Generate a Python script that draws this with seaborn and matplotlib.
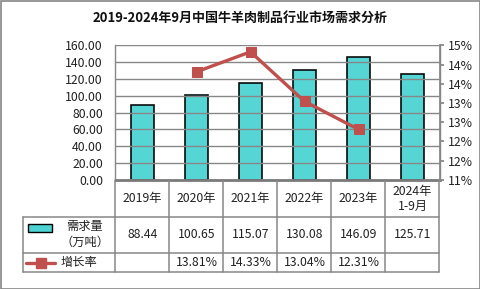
import matplotlib
matplotlib.use("Agg")
import matplotlib.pyplot as plt
import seaborn as sns
import pandas as pd
import numpy as np
from matplotlib.patches import Rectangle
from matplotlib.lines import Line2D

sns.set_theme(style="white")
plt.rcParams['font.family'] = ['Noto Sans CJK SC', 'DejaVu Sans']

# ---- data ----
categories = ["2019年", "2020年", "2021年", "2022年", "2023年", "2024年\n1-9月"]
demand = [88.44, 100.65, 115.07, 130.08, 146.09, 125.71]
growth_years = ["2020年", "2021年", "2022年", "2023年"]
growth = [13.81, 14.33, 13.04, 12.31]
left_ticks = [0, 20, 40, 60, 80, 100, 120, 140, 160]
right_ticks = [11.0, 11.5, 12.0, 12.5, 13.0, 13.5, 14.0, 14.5]
right_labels = ["11%", "12%", "12%", "13%", "13%", "14%", "14%", "15%"]
title = "2019-2024年9月中国牛羊肉制品行业市场需求分析"
row1_label = ["需求量", "（万吨）"]
row2_label = "增长率"

BAR = "#4DD3D3"
LINE = "#C0504D"
GRID = "#878787"
TXT = "#222222"
FS = 8.8

W, H = 481, 289
fig = plt.figure(figsize=(W / 100, H / 100), dpi=100)

def fx(px):
    return px / W

def fy(py):
    return 1 - py / H

L, R, T, B = 115.5, 439.5, 45.3, 179.7
ax = fig.add_axes([fx(L), fy(B), (R - L) / W, (B - T) / H])

df = pd.DataFrame({"cat": categories, "demand": demand})
sns.barplot(data=df, x="cat", y="demand", order=categories, ax=ax,
            color=BAR, width=0.41, edgecolor="black", linewidth=1.2,
            saturation=1, alpha=0.95, zorder=2)
ax.set_xlim(-0.5, len(categories) - 0.5)
ax.set_ylim(0, 160)
ax.set_yticks(left_ticks)
ax.set_yticklabels([f"{v:.2f}" for v in left_ticks], fontsize=FS, color=TXT)
ax.set_xticks([])
ax.set_xlabel("")
ax.set_ylabel("")
ax.grid(axis="y", color=GRID, linewidth=1.0, zorder=3)
ax.set_axisbelow(False)
for s in ["left", "right", "top"]:
    ax.spines[s].set_color(GRID)
    ax.spines[s].set_linewidth(1.0)
ax.spines["top"].set_visible(False)
ax.spines["bottom"].set_color("#7a7a7a")
ax.spines["bottom"].set_linewidth(2.0)
ax.tick_params(axis="y", length=0, pad=9)

ax2 = ax.twinx()
pos = [categories.index(c) for c in growth_years]
dfl = pd.DataFrame({"pos": pos, "growth": growth})
sns.lineplot(data=dfl, x="pos", y="growth", ax=ax2, color=LINE, linewidth=2.4,
             marker="s", markersize=7, markeredgecolor=LINE, zorder=5)
ax2.set_ylim(11.0, 14.5)
ax2.set_yticks(right_ticks)
ax2.set_yticklabels(right_labels, fontsize=FS, color=TXT)
ax2.tick_params(axis="y", length=3, color=GRID, pad=3)
ax2.set_xlim(-0.5, len(categories) - 0.5)
ax2.set_xlabel("")
ax2.set_ylabel("")
ax2.grid(False)
for s in ["left", "top", "bottom"]:
    ax2.spines[s].set_visible(False)
ax2.spines["right"].set_color(GRID)

# ---- title ----
fig.text(fx(240), fy(18), title, ha="center", va="center", fontsize=9.4,
         fontweight="bold", color="#111111")

# ---- data table ----
cw = (R - L) / len(categories)
y0, y1, y2, y3 = B, 216.7, 252.7, 272.0
tl = 23.3
lw = 1.1
def hline(y, xa, xb):
    fig.add_artist(Line2D([fx(xa), fx(xb)], [fy(y), fy(y)], color=GRID, lw=lw))
def vline(x, ya, yb):
    fig.add_artist(Line2D([fx(x), fx(x)], [fy(ya), fy(yb)], color=GRID, lw=lw))

for k in range(len(categories) + 1):
    vline(L + k * cw, y0, y3)
vline(tl, y1, y3)
for y in (y1, y2, y3):
    hline(y, tl, R)

for i, c in enumerate(categories):
    cx = L + (i + 0.5) * cw
    if "\n" in c:
        a, b = c.split("\n")
        fig.text(fx(cx), fy(191.7), a, ha="center", va="center", fontsize=FS, color=TXT)
        fig.text(fx(cx), fy(206.7), b, ha="center", va="center", fontsize=FS, color=TXT)
    else:
        fig.text(fx(cx), fy((y0 + y1) / 2), c, ha="center", va="center", fontsize=FS, color=TXT)
    fig.text(fx(cx), fy((y1 + y2) / 2), f"{demand[i]:.2f}", ha="center", va="center",
             fontsize=FS, color=TXT)

for c, g in zip(growth_years, growth):
    i = categories.index(c)
    cx = L + (i + 0.5) * cw
    fig.text(fx(cx), fy((y2 + y3) / 2), f"{g:.2f}%", ha="center", va="center",
             fontsize=FS, color=TXT)

# legend keys in table
fig.add_artist(Rectangle((fx(28.3), fy(231.7)), (52.3 - 28.3) / W, (231.7 - 224.3) / H,
                         facecolor=BAR, edgecolor="black", lw=1.0))
fig.text(fx(85), fy(226.7), row1_label[0], ha="center", va="center", fontsize=FS, color=TXT)
fig.text(fx(85), fy(242.7), row1_label[1], ha="center", va="center", fontsize=FS, color=TXT)
fig.add_artist(Line2D([fx(26), fx(55)], [fy(263.3), fy(263.3)], color=LINE, lw=2.4))
fig.add_artist(Line2D([fx(41)], [fy(263.3)], color=LINE, marker="s", markersize=7, lw=0))
fig.text(fx(79), fy(262.7), row2_label, ha="center", va="center", fontsize=FS, color=TXT)

# outer border
fig.add_artist(Rectangle((0.5 / W, 0.5 / H), (W - 1.5) / W, (H - 1.5) / H, fill=False,
                         edgecolor="#868686", lw=1.2))

fig.savefig("out.png", dpi=100)
